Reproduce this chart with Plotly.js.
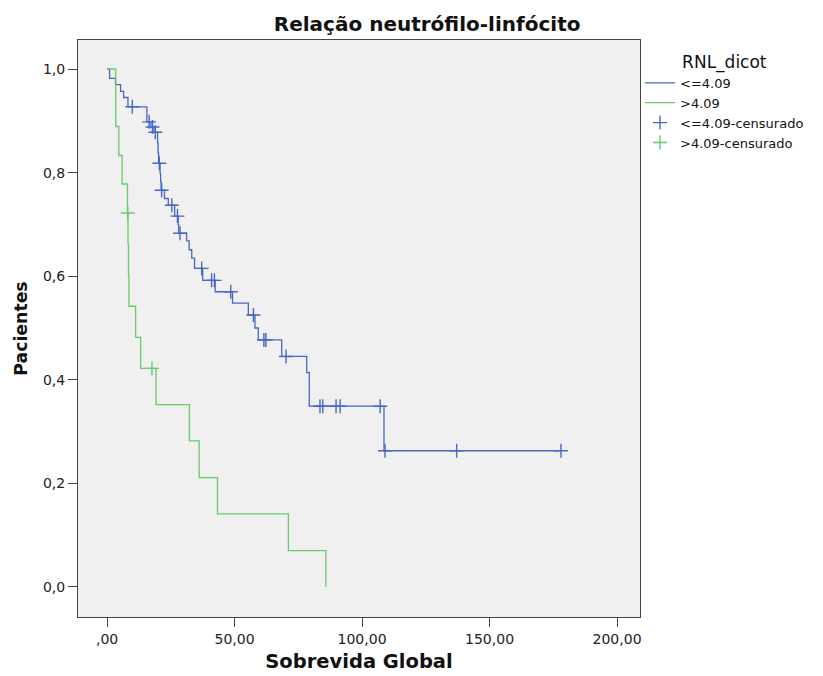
<!DOCTYPE html>
<html>
<head>
<meta charset="utf-8">
<script src="https://cdn.plot.ly/plotly-3.0.1.min.js"></script>
<style>html,body{margin:0;padding:0;background:#fff;}#chart{width:823px;height:676px;}</style>
</head>
<body>
<div id="chart"></div>
<script>
// Kaplan-Meier step data
const blueName = "<=4.09";
const greenName = ">4.09";
const blueCensName = "<=4.09-censurado";
const greenCensName = ">4.09-censurado";

const blueTime = [0, 1.0, 3.3, 5.3, 6.5, 8.2, 15.6, 17.2, 18.4, 19.8, 20.0, 20.2, 20.8, 21.0, 21.2, 22.5, 24.0, 26.5, 27.9, 28.1, 31.2, 32.2, 33.2, 34.3, 37.5, 42.4, 49.2, 55.4, 58.0, 59.3, 68.5, 78.3, 79.3, 108.6, 178.0];
const blueSurv = [1, 0.982, 0.970, 0.957, 0.945, 0.927, 0.898, 0.888, 0.878, 0.858, 0.838, 0.818, 0.798, 0.782, 0.766, 0.750, 0.737, 0.716, 0.700, 0.683, 0.668, 0.651, 0.635, 0.615, 0.592, 0.570, 0.548, 0.525, 0.500, 0.477, 0.445, 0.414, 0.349, 0.263, 0.263];

const blueCensTime = [9.9, 16.5, 17.8, 18.9, 20.5, 21.4, 25.4, 27.6, 28.6, 37.1, 41.0, 42.1, 48.5, 57.4, 61.5, 62.3, 70.2, 83.5, 84.6, 89.8, 91.4, 107.1, 109.0, 137.1, 178.0];
const blueCensSurv = [0.927, 0.898, 0.888, 0.878, 0.818, 0.766, 0.737, 0.716, 0.683, 0.615, 0.592, 0.592, 0.570, 0.525, 0.477, 0.477, 0.445, 0.349, 0.349, 0.349, 0.349, 0.349, 0.263, 0.263, 0.263];

const greenTime = [0, 3.4, 4.6, 5.9, 8.0, 8.2, 8.4, 8.6, 11.2, 13.2, 19.2, 32.3, 36.1, 43.3, 71.1, 85.8];
const greenSurv = [1, 0.889, 0.833, 0.778, 0.722, 0.662, 0.602, 0.542, 0.482, 0.422, 0.352, 0.282, 0.211, 0.141, 0.070, 0];

const greenCensTime = [8.1, 17.6];
const greenCensSurv = [0.722, 0.422];

const xTickVals = [0, 50, 100, 150, 200];
const xTickText = [",00", "50,00", "100,00", "150,00", "200,00"];
const yTickVals = [0, 0.2, 0.4, 0.6, 0.8, 1.0];
const yTickText = ["0,0", "0,2", "0,4", "0,6", "0,8", "1,0"];

const BLUE = "#4668c4";
const GREEN = "#66cc66";
const FONT = "DejaVu Sans";

const traces = [
  {x: blueTime, y: blueSurv, name: blueName, type: "scatter", mode: "lines",
   line: {color: BLUE, width: 1.3, shape: "hv"}},
  {x: greenTime, y: greenSurv, name: greenName, type: "scatter", mode: "lines",
   line: {color: GREEN, width: 1.3, shape: "hv"}},
  {x: blueCensTime, y: blueCensSurv, name: blueCensName, type: "scatter", mode: "markers",
   marker: {symbol: "cross-thin", size: 10, color: BLUE, line: {color: BLUE, width: 1.4}}},
  {x: greenCensTime, y: greenCensSurv, name: greenCensName, type: "scatter", mode: "markers",
   marker: {symbol: "cross-thin", size: 10, color: GREEN, line: {color: GREEN, width: 1.4}}}
];

const layout = {
  width: 823, height: 676,
  margin: {l: 78, r: 183, t: 40, b: 59},
  paper_bgcolor: "#ffffff",
  plot_bgcolor: "#f0f0f0",
  font: {family: FONT, size: 13, color: "#111"},
  title: {text: "<b>Relação neutrófilo-linfócito</b>", font: {family: FONT, size: 20, color: "#111"},
          xref: "container", x: 0.519, xanchor: "center", yref: "container", y: 0.964, yanchor: "middle"},
  xaxis: {range: [-11.4, 209], tickvals: xTickVals, ticktext: xTickText,
          showgrid: false, zeroline: false, showline: true, mirror: true,
          linecolor: "#444", linewidth: 1, ticks: "outside", ticklen: 9, tickcolor: "#444",
          tickfont: {family: FONT, size: 14, color: "#222"},
          title: {text: "<b>Sobrevida Global</b>", font: {family: FONT, size: 19.5, color: "#111"}, standoff: 8},
          automargin: false},
  yaxis: {range: [-0.058, 1.056], tickvals: yTickVals, ticktext: yTickText,
          showgrid: false, zeroline: false, showline: true, mirror: true,
          linecolor: "#444", linewidth: 1, ticks: "outside", ticklen: 9, tickcolor: "#444",
          tickfont: {family: FONT, size: 14, color: "#222"},
          title: {text: "<b>Pacientes</b>", font: {family: FONT, size: 17.3, color: "#111"}, standoff: 10},
          automargin: false},
  showlegend: true,
  legend: {x: 1.0, xanchor: "left", y: 0.99, yanchor: "top",
           bgcolor: "rgba(0,0,0,0)", borderwidth: 0,
           font: {family: FONT, size: 13, color: "#111"},
           itemwidth: 30, tracegroupgap: 0,
           title: {text: "RNL_dicot", side: "top center", font: {family: FONT, size: 17, color: "#111"}}}
};

Plotly.newPlot("chart", traces, layout, {displayModeBar: false, staticPlot: true});
</script>
</body>
</html>
